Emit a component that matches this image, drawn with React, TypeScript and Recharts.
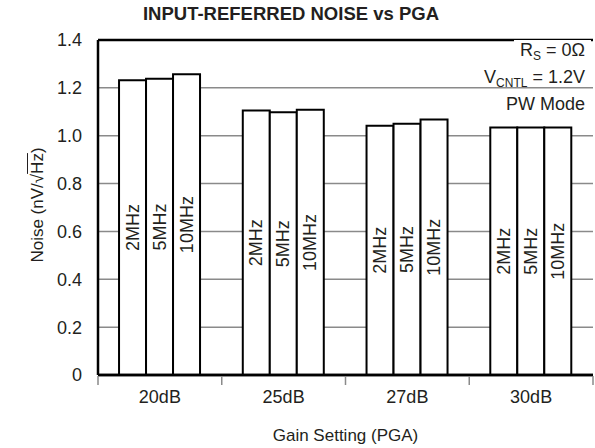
import React from 'react';
import { BarChart, Bar, XAxis, YAxis, CartesianGrid, ReferenceLine, LabelList } from 'recharts';

const categories = ['20dB', '25dB', '27dB', '30dB'];
const noise2MHz = [1.232, 1.105, 1.042, 1.034];
const noise5MHz = [1.238, 1.098, 1.05, 1.034];
const noise10MHz = [1.257, 1.108, 1.068, 1.034];
const yTicks = [0, 0.2, 0.4, 0.6, 0.8, 1.0, 1.2, 1.4];

const series = [
  { key: 'f2', name: '2MHz', values: noise2MHz },
  { key: 'f5', name: '5MHz', values: noise5MHz },
  { key: 'f10', name: '10MHz', values: noise10MHz },
];

const data = categories.map((gain, i) => {
  const row: any = { gain };
  series.forEach(s => { row[s.key] = s.values[i]; });
  return row;
});

const FONT = '"Liberation Sans", Arial, Helvetica, sans-serif';
const INK = '#231f20';
const GRID = '#8a8a8a';

const barLabel = (name: string) => (props: any) => {
  const { x, y, width, height } = props;
  const cx = Number(x) + Number(width) / 2;
  const cy = Number(y) + Number(height) / 2;
  return (
    <text
      x={cx}
      y={cy}
      transform={`rotate(-90, ${cx}, ${cy})`}
      textAnchor="middle"
      dominantBaseline="central"
      fontSize={18}
      fontFamily={FONT}
      fill={INK}
    >
      {name}
    </text>
  );
};

// category tick: label in the middle, gray tick marks on the group boundaries
const GainTick = (props: any) => {
  const { x, y, payload, index, visibleTicksCount } = props;
  const half = payload && payload.offset ? payload.offset : 495 / categories.length / 2;
  const isLast = index === (visibleTicksCount ?? categories.length) - 1;
  return (
    <g>
      <line x1={x - half} x2={x - half} y1={y + 1} y2={y + 10} stroke={GRID} strokeWidth={1.5} />
      {isLast && <line x1={x + half} x2={x + half} y1={y + 1} y2={y + 10} stroke={GRID} strokeWidth={1.5} />}
      <text x={x} y={y + 28} textAnchor="middle" fontSize={18} fontFamily={FONT} fill={INK}>
        {payload.value}
      </text>
    </g>
  );
};

const subStyle: React.CSSProperties = { fontSize: 12, verticalAlign: '-4px', lineHeight: 0 };
const boxStyle: React.CSSProperties = { background: '#fff', padding: '0 6px' };

const App: React.FC = () => {
  return (
    <div style={{ position: 'absolute', left: 0, top: 0, width: 595, height: 448, background: '#fff', fontFamily: FONT, color: INK }}>
      <div style={{ position: 'absolute', left: 0, width: 582, top: 3, textAlign: 'center', fontWeight: 'bold', fontSize: 18.5 }}>
        INPUT-REFERRED NOISE vs PGA
      </div>
      <BarChart
        width={595}
        height={448}
        data={data}
        margin={{ top: 40, right: 2, bottom: 43, left: 0 }}
        barCategoryGap="17%"
        barGap={0}
      >
        <CartesianGrid vertical={false} stroke={GRID} strokeWidth={1.5} />
        <XAxis
          dataKey="gain"
          height={30}
          axisLine={{ stroke: '#000', strokeWidth: 2.5 }}
          tickLine={false}
          tickSize={0}
          tickMargin={0}
          tick={<GainTick />}
        />
        <YAxis
          width={98}
          domain={[0, 1.4]}
          ticks={yTicks}
          tickFormatter={(v: number) => (v === 0 ? '0' : v.toFixed(1))}
          tickLine={false}
          tickMargin={10}
          axisLine={{ stroke: '#000', strokeWidth: 2.5 }}
          tick={{ fontSize: 18, fill: INK, fontFamily: FONT }}
        />
        <YAxis
          yAxisId="frame"
          orientation="right"
          width={0}
          domain={[0, 1.4]}
          tick={false}
          tickLine={false}
          axisLine={{ stroke: '#000', strokeWidth: 2.5 }}
        />
        <ReferenceLine y={1.4} stroke="#000" strokeWidth={2.5} />
        {series.map(s => (
          <Bar
            key={s.key}
            dataKey={s.key}
            fill="#fff"
            stroke="#000"
            strokeWidth={2}
            isAnimationActive={false}
          >
            <LabelList dataKey={s.key} content={barLabel(s.name)} />
          </Bar>
        ))}
        <ReferenceLine y={0} stroke="#000" strokeWidth={2.5} />
      </BarChart>
      <div style={{ position: 'absolute', right: 4, top: 38, fontSize: 18, textAlign: 'right' }}>
        <div style={{ height: 27, lineHeight: '24px' }}><span style={boxStyle}>R<sub style={subStyle}>S</sub> = 0Ω</span></div>
        <div style={{ height: 27, lineHeight: '24px' }}><span style={boxStyle}>V<sub style={subStyle}>CNTL</sub> = 1.2V</span></div>
        <div style={{ height: 27, lineHeight: '24px' }}><span style={boxStyle}>PW Mode</span></div>
      </div>
      <div
        style={{
          position: 'absolute',
          left: 38,
          top: 205,
          transform: 'translate(-50%, -50%) rotate(-90deg)',
          whiteSpace: 'nowrap',
          fontSize: 17,
        }}
      >
        Noise (nV/√<span style={{ textDecoration: 'overline' }}>Hz</span>)
      </div>
      <div style={{ position: 'absolute', left: 98, width: 495, top: 426, textAlign: 'center', fontSize: 17 }}>
        Gain Setting (PGA)
      </div>
    </div>
  );
};

export default App;
